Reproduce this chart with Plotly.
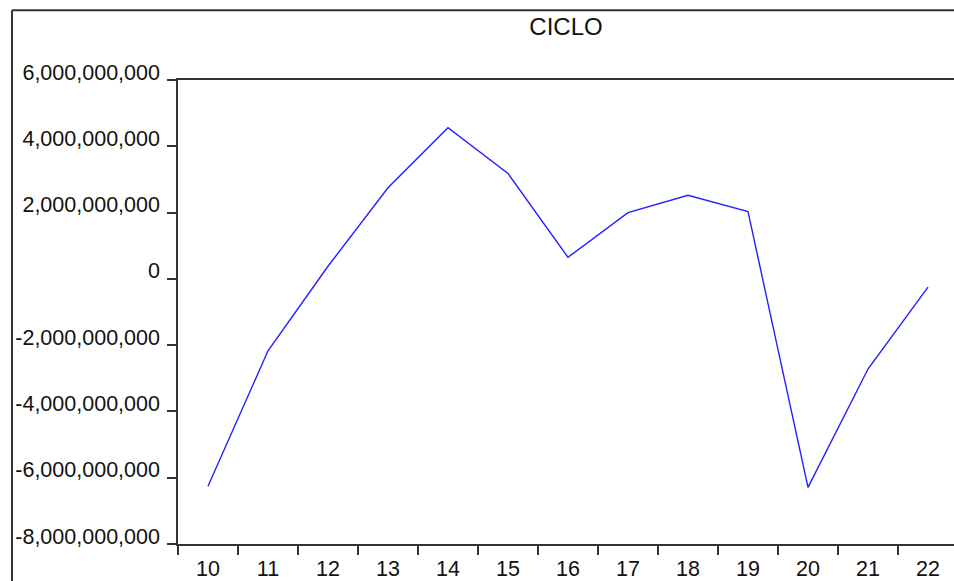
import plotly.graph_objects as go

categories = ["10", "11", "12", "13", "14", "15", "16", "17", "18", "19", "20", "21", "22"]
ciclo = [-6.26e9, -2.17e9, 0.38e9, 2.75e9, 4.56e9, 3.18e9, 0.65e9, 2.00e9, 2.52e9, 2.03e9, -6.29e9, -2.72e9, -0.25e9]
y_tickvals = [6e9, 4e9, 2e9, 0, -2e9, -4e9, -6e9, -8e9]
y_ticktext = ["6,000,000,000", "4,000,000,000", "2,000,000,000", "0",
              "-2,000,000,000", "-4,000,000,000", "-6,000,000,000", "-8,000,000,000"]

FONT = "Liberation Sans, Arial, sans-serif"

fig = go.Figure()
fig.add_trace(go.Scatter(x=categories, y=ciclo, mode="lines",
                         line=dict(color="#2020ff", width=1.4), showlegend=False))

fig.update_layout(
    width=954, height=581,
    margin=dict(l=178, r=0, t=80, b=35),
    paper_bgcolor="white", plot_bgcolor="white",
    font=dict(family=FONT, size=21, color="#111111"),
    title=dict(text="CICLO", x=0.5, xref="paper", xanchor="center",
               y=1 - 27 / 581, yref="container", yanchor="middle",
               font=dict(family=FONT, size=24, color="#111111")),
)

fig.update_xaxes(
    type="category", range=[-0.5, 12.5 - 4 / 60],
    showline=True, linecolor="#333333", linewidth=1.5, mirror=True,
    ticks="outside", ticklen=9, tickwidth=1.5, tickcolor="#333333",
    tickson="boundaries", showgrid=False, zeroline=False,
    ticklabelstandoff=4,
    tickfont=dict(family=FONT, size=21.5, color="#111111"),
)
fig.update_yaxes(
    range=[-8e9, 6e9], tickmode="array", tickvals=y_tickvals, ticktext=y_ticktext,
    showline=True, linecolor="#333333", linewidth=1.5,
    ticks="outside", ticklen=9, tickwidth=1.5, tickcolor="#333333",
    showgrid=False, zeroline=False,
    ticklabelshift=-8, ticklabelstandoff=3,
    tickfont=dict(family=FONT, size=21.5, color="#111111"),
)

# outer frame (left and top border lines)
x_left = (12 - 178) / 776
y_top = (546 - 10) / 466
y_bot = (546 - 600) / 466
fig.add_shape(type="line", xref="paper", yref="paper", x0=x_left, x1=1.01, y0=y_top, y1=y_top,
              line=dict(color="#333333", width=2))
fig.add_shape(type="line", xref="paper", yref="paper", x0=x_left, x1=x_left, y0=y_bot, y1=y_top,
              line=dict(color="#333333", width=2))

fig.write_html("out.html", config={"displayModeBar": False},
               post_script="document.body.style.margin='0';document.body.style.overflow='hidden';")
